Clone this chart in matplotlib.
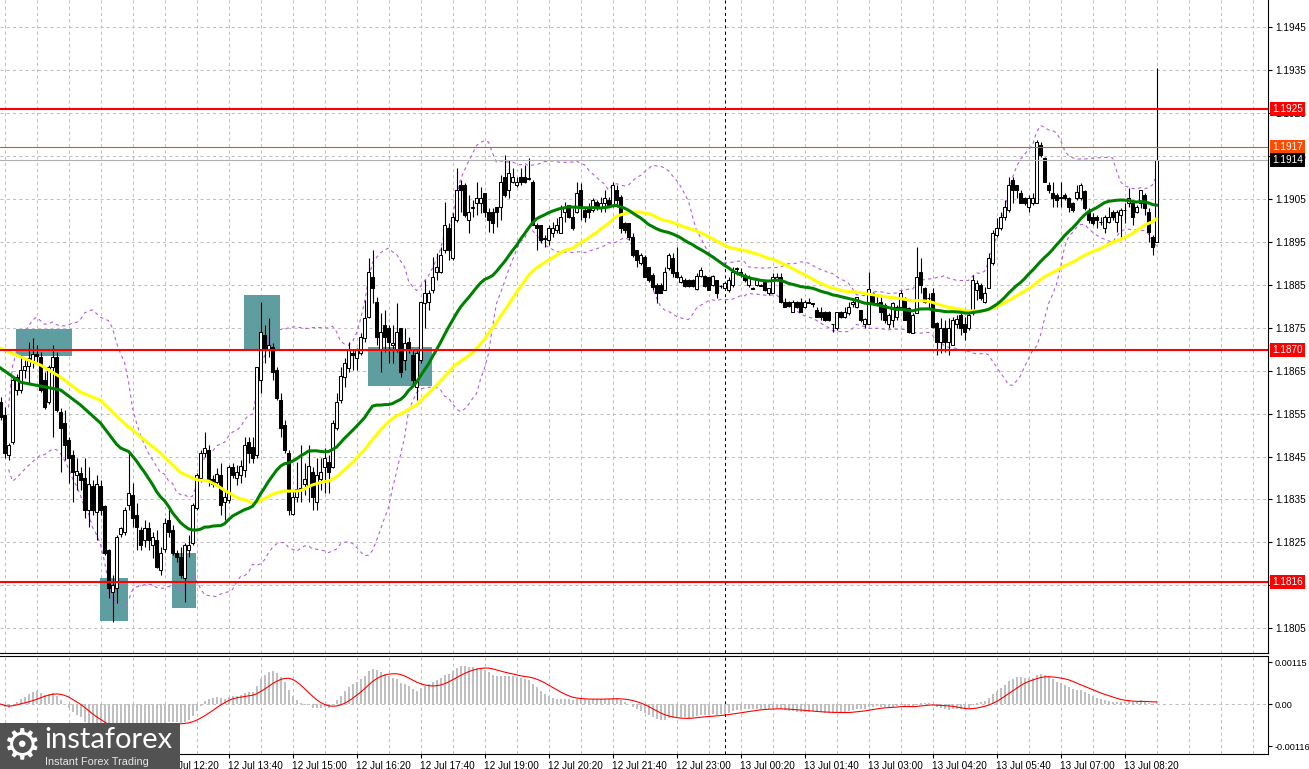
import numpy as np
import pandas as pd
import matplotlib
matplotlib.use('Agg')
import matplotlib.pyplot as plt
from matplotlib.patches import Rectangle

# EURUSD M5, 12 Jul 08:55 -> 13 Jul 09:00
opens = [
    1.18576, 1.18546, 1.18453, 1.18483, 1.18605, 1.18605, 1.18651, 1.18661, 1.18670, 1.18689,
    1.18682, 1.18628, 1.18576, 1.18659, 1.18682, 1.18553, 1.18528, 1.18488, 1.18453, 1.18406,
    1.18411, 1.18399, 1.18325, 1.18381, 1.18320, 1.18381, 1.18334, 1.18232, 1.18134, 1.18143,
    1.18270, 1.18274, 1.18336, 1.18360, 1.18313, 1.18279, 1.18255, 1.18283, 1.18243, 1.18255,
    1.18185, 1.18234, 1.18302, 1.18279, 1.18225, 1.18216, 1.18166, 1.18232, 1.18248, 1.18329,
    1.18399, 1.18458, 1.18465, 1.18397, 1.18390, 1.18406, 1.18343, 1.18348, 1.18426, 1.18399,
    1.18406, 1.18418, 1.18483, 1.18472, 1.18453, 1.18628, 1.18733, 1.18698, 1.18705, 1.18651,
    1.18581, 1.18523, 1.18458, 1.18316, 1.18356, 1.18374, 1.18386, 1.18383, 1.18413, 1.18343,
    1.18397, 1.18426, 1.18437, 1.18426, 1.18516, 1.18581, 1.18635, 1.18656, 1.18691, 1.18679,
    1.18691, 1.18726, 1.18775, 1.18868, 1.18809, 1.18698, 1.18756, 1.18749, 1.18709, 1.18698,
    1.18749, 1.18675, 1.18716, 1.18686, 1.18612, 1.18675, 1.18807, 1.18809, 1.18838, 1.18879,
    1.18879, 1.18931, 1.18982, 1.18912, 1.19001, 1.19082, 1.19082, 1.19001, 1.19028, 1.19040,
    1.19040, 1.19063, 1.19019, 1.19019, 1.19031, 1.19031, 1.19101, 1.19070, 1.19089, 1.19082,
    1.19101, 1.19101, 1.19098, 1.19089, 1.18989, 1.18989, 1.18958, 1.18954, 1.18970, 1.18977,
    1.18970, 1.19019, 1.19035, 1.19008, 1.19019, 1.19070, 1.19024, 1.19031, 1.19024, 1.19042,
    1.19028, 1.19040, 1.19047, 1.19035, 1.19070, 1.19054, 1.18994, 1.18994, 1.18961, 1.18931,
    1.18900, 1.18915, 1.18891, 1.18872, 1.18849, 1.18849, 1.18838, 1.18888, 1.18912, 1.18879,
    1.18856, 1.18861, 1.18861, 1.18861, 1.18840, 1.18870, 1.18870, 1.18868, 1.18849, 1.18861,
    1.18847, 1.18842, 1.18838, 1.18849, 1.18888, 1.18879, 1.18872, 1.18849, 1.18842, 1.18849,
    1.18849, 1.18856, 1.18831, 1.18831, 1.18863, 1.18868, 1.18809, 1.18809, 1.18786, 1.18809,
    1.18809, 1.18798, 1.18809, 1.18807, 1.18791, 1.18786, 1.18786, 1.18786, 1.18759, 1.18749,
    1.18786, 1.18775, 1.18784, 1.18805, 1.18798, 1.18791, 1.18759, 1.18759, 1.18831, 1.18807,
    1.18809, 1.18802, 1.18759, 1.18768, 1.18775, 1.18798, 1.18819, 1.18795, 1.18738, 1.18784,
    1.18879, 1.18842, 1.18819, 1.18831, 1.18761, 1.18716, 1.18749, 1.18716, 1.18709, 1.18759,
    1.18779, 1.18759, 1.18749, 1.18784, 1.18838, 1.18849, 1.18809, 1.18842, 1.18900, 1.18965,
    1.18982, 1.19008, 1.19024, 1.19094, 1.19082, 1.19063, 1.19051, 1.19031, 1.19040, 1.19040,
    1.19175, 1.19145, 1.19082, 1.19063, 1.19058, 1.19054, 1.19058, 1.19051, 1.19040, 1.19051,
    1.19051, 1.19068, 1.19019, 1.19008, 1.19008, 1.18996, 1.18982, 1.18996, 1.19019, 1.18996,
    1.19012, 1.19024, 1.19040, 1.19040, 1.19019, 1.19040, 1.19058, 1.19019, 1.18961, 1.18949,
]
highs = [
    1.18589, 1.18565, 1.18481, 1.18635, 1.18642, 1.18686, 1.18675, 1.18716, 1.18726, 1.18709,
    1.18693, 1.18646, 1.18663, 1.18709, 1.18693, 1.18562, 1.18558, 1.18496, 1.18465, 1.18446,
    1.18426, 1.18446, 1.18426, 1.18395, 1.18406, 1.18395, 1.18336, 1.18234, 1.18173, 1.18267,
    1.18286, 1.18332, 1.18458, 1.18388, 1.18341, 1.18286, 1.18302, 1.18297, 1.18274, 1.18279,
    1.18239, 1.18306, 1.18325, 1.18290, 1.18232, 1.18239, 1.18248, 1.18267, 1.18341, 1.18411,
    1.18465, 1.18507, 1.18476, 1.18406, 1.18423, 1.18435, 1.18372, 1.18430, 1.18435, 1.18430,
    1.18442, 1.18496, 1.18496, 1.18496, 1.18659, 1.18809, 1.18756, 1.18772, 1.18714, 1.18659,
    1.18598, 1.18535, 1.18465, 1.18372, 1.18437, 1.18476, 1.18435, 1.18476, 1.18426, 1.18446,
    1.18446, 1.18469, 1.18453, 1.18535, 1.18598, 1.18659, 1.18679, 1.18716, 1.18698, 1.18702,
    1.18738, 1.18814, 1.18912, 1.18931, 1.18822, 1.18784, 1.18791, 1.18756, 1.18756, 1.18807,
    1.18749, 1.18749, 1.18729, 1.18698, 1.18698, 1.18809, 1.18861, 1.18838, 1.18915, 1.18924,
    1.18938, 1.19042, 1.18994, 1.19017, 1.19121, 1.19094, 1.19087, 1.19058, 1.19047, 1.19089,
    1.19078, 1.19063, 1.19028, 1.19028, 1.19031, 1.19105, 1.19152, 1.19140, 1.19121, 1.19101,
    1.19121, 1.19128, 1.19145, 1.19094, 1.18994, 1.18989, 1.18965, 1.18989, 1.18996, 1.19005,
    1.19035, 1.19042, 1.19035, 1.19028, 1.19089, 1.19087, 1.19031, 1.19040, 1.19051, 1.19047,
    1.19054, 1.19070, 1.19054, 1.19089, 1.19082, 1.19058, 1.18996, 1.18994, 1.18970, 1.18931,
    1.18924, 1.18919, 1.18891, 1.18877, 1.18854, 1.18854, 1.18891, 1.18924, 1.18924, 1.18938,
    1.18872, 1.18865, 1.18863, 1.18863, 1.18877, 1.18891, 1.18872, 1.18868, 1.18872, 1.18861,
    1.18849, 1.18856, 1.18868, 1.18891, 1.18891, 1.18888, 1.18877, 1.18872, 1.18845, 1.18863,
    1.18852, 1.18859, 1.18842, 1.18877, 1.18877, 1.18877, 1.18819, 1.18812, 1.18814, 1.18812,
    1.18819, 1.18814, 1.18819, 1.18807, 1.18798, 1.18798, 1.18788, 1.18788, 1.18759, 1.18786,
    1.18788, 1.18798, 1.18809, 1.18819, 1.18822, 1.18791, 1.18772, 1.18879, 1.18833, 1.18822,
    1.18822, 1.18807, 1.18784, 1.18809, 1.18802, 1.18838, 1.18822, 1.18798, 1.18784, 1.18938,
    1.18912, 1.18845, 1.18831, 1.18842, 1.18763, 1.18772, 1.18768, 1.18772, 1.18775, 1.18779,
    1.18786, 1.18775, 1.18786, 1.18872, 1.18861, 1.18854, 1.18845, 1.18924, 1.18977, 1.19005,
    1.19019, 1.19047, 1.19101, 1.19101, 1.19082, 1.19070, 1.19054, 1.19058, 1.19063, 1.19187,
    1.19182, 1.19148, 1.19089, 1.19089, 1.19063, 1.19089, 1.19063, 1.19054, 1.19042, 1.19082,
    1.19087, 1.19070, 1.19028, 1.19017, 1.19012, 1.19008, 1.19012, 1.19031, 1.19024, 1.19024,
    1.19028, 1.19040, 1.19075, 1.19042, 1.19035, 1.19070, 1.19063, 1.19028, 1.18965, 1.19354,
]
lows = [
    1.18535, 1.18446, 1.18442, 1.18479, 1.18593, 1.18598, 1.18632, 1.18621, 1.18656, 1.18670,
    1.18600, 1.18560, 1.18572, 1.18496, 1.18553, 1.18413, 1.18442, 1.18388, 1.18343, 1.18372,
    1.18372, 1.18306, 1.18286, 1.18313, 1.18255, 1.18313, 1.18220, 1.18120, 1.18064, 1.18109,
    1.18263, 1.18267, 1.18325, 1.18286, 1.18232, 1.18232, 1.18239, 1.18232, 1.18213, 1.18190,
    1.18173, 1.18227, 1.18263, 1.18220, 1.18204, 1.18166, 1.18111, 1.18216, 1.18243, 1.18325,
    1.18390, 1.18449, 1.18381, 1.18379, 1.18386, 1.18313, 1.18302, 1.18341, 1.18399, 1.18383,
    1.18388, 1.18402, 1.18435, 1.18435, 1.18446, 1.18598, 1.18668, 1.18682, 1.18628, 1.18581,
    1.18496, 1.18458, 1.18313, 1.18313, 1.18343, 1.18343, 1.18360, 1.18343, 1.18325, 1.18325,
    1.18372, 1.18365, 1.18365, 1.18423, 1.18512, 1.18574, 1.18612, 1.18646, 1.18651, 1.18651,
    1.18686, 1.18716, 1.18772, 1.18807, 1.18709, 1.18646, 1.18693, 1.18668, 1.18668, 1.18693,
    1.18635, 1.18651, 1.18691, 1.18616, 1.18581, 1.18668, 1.18749, 1.18791, 1.18831, 1.18861,
    1.18877, 1.18924, 1.18907, 1.18907, 1.18996, 1.19019, 1.19008, 1.18970, 1.19008, 1.19012,
    1.19017, 1.19008, 1.18972, 1.18970, 1.18985, 1.19001, 1.19054, 1.19051, 1.19087, 1.19078,
    1.19082, 1.19087, 1.19094, 1.18989, 1.18931, 1.18947, 1.18938, 1.18942, 1.18961, 1.18970,
    1.18970, 1.18996, 1.19005, 1.18977, 1.19017, 1.19001, 1.18996, 1.19005, 1.19019, 1.19024,
    1.19019, 1.19019, 1.19031, 1.19031, 1.19031, 1.18970, 1.18970, 1.18954, 1.18915, 1.18891,
    1.18895, 1.18868, 1.18856, 1.18838, 1.18807, 1.18831, 1.18838, 1.18884, 1.18868, 1.18865,
    1.18854, 1.18845, 1.18845, 1.18845, 1.18838, 1.18868, 1.18845, 1.18838, 1.18847, 1.18819,
    1.18842, 1.18840, 1.18833, 1.18845, 1.18872, 1.18868, 1.18856, 1.18845, 1.18840, 1.18847,
    1.18847, 1.18835, 1.18826, 1.18831, 1.18861, 1.18807, 1.18798, 1.18798, 1.18786, 1.18795,
    1.18786, 1.18795, 1.18807, 1.18798, 1.18775, 1.18768, 1.18765, 1.18765, 1.18740, 1.18745,
    1.18772, 1.18772, 1.18779, 1.18798, 1.18795, 1.18763, 1.18749, 1.18759, 1.18802, 1.18802,
    1.18768, 1.18761, 1.18749, 1.18752, 1.18768, 1.18795, 1.18768, 1.18738, 1.18738, 1.18784,
    1.18831, 1.18807, 1.18795, 1.18749, 1.18686, 1.18691, 1.18693, 1.18686, 1.18709, 1.18749,
    1.18733, 1.18721, 1.18745, 1.18779, 1.18814, 1.18814, 1.18807, 1.18842, 1.18895, 1.18961,
    1.18977, 1.19001, 1.19019, 1.19040, 1.19051, 1.19040, 1.19035, 1.19019, 1.19035, 1.19040,
    1.19148, 1.19089, 1.19063, 1.19031, 1.19031, 1.19031, 1.19047, 1.19019, 1.19019, 1.19047,
    1.19047, 1.19024, 1.18994, 1.18989, 1.18982, 1.18989, 1.18970, 1.18994, 1.19001, 1.18972,
    1.18961, 1.18994, 1.19031, 1.18989, 1.19017, 1.19028, 1.19012, 1.18949, 1.18919, 1.18949,
]
closes = [
    1.18542, 1.18458, 1.18476, 1.18628, 1.18635, 1.18651, 1.18661, 1.18679, 1.18689, 1.18684,
    1.18605, 1.18565, 1.18659, 1.18682, 1.18558, 1.18516, 1.18476, 1.18446, 1.18413, 1.18416,
    1.18395, 1.18325, 1.18386, 1.18325, 1.18386, 1.18325, 1.18225, 1.18143, 1.18150, 1.18263,
    1.18283, 1.18325, 1.18365, 1.18306, 1.18286, 1.18243, 1.18283, 1.18255, 1.18263, 1.18193,
    1.18225, 1.18295, 1.18274, 1.18225, 1.18216, 1.18173, 1.18243, 1.18243, 1.18336, 1.18406,
    1.18458, 1.18469, 1.18395, 1.18386, 1.18409, 1.18336, 1.18356, 1.18426, 1.18406, 1.18413,
    1.18428, 1.18476, 1.18458, 1.18446, 1.18659, 1.18740, 1.18698, 1.18709, 1.18646, 1.18586,
    1.18516, 1.18465, 1.18325, 1.18356, 1.18374, 1.18376, 1.18397, 1.18428, 1.18356, 1.18406,
    1.18413, 1.18446, 1.18413, 1.18528, 1.18576, 1.18637, 1.18668, 1.18698, 1.18686, 1.18698,
    1.18729, 1.18772, 1.18879, 1.18842, 1.18729, 1.18740, 1.18729, 1.18716, 1.18714, 1.18740,
    1.18646, 1.18714, 1.18698, 1.18628, 1.18691, 1.18809, 1.18831, 1.18831, 1.18868, 1.18891,
    1.18919, 1.18989, 1.18931, 1.19008, 1.19070, 1.19070, 1.19012, 1.19019, 1.19031, 1.19051,
    1.19051, 1.19019, 1.19001, 1.18994, 1.19019, 1.19089, 1.19058, 1.19110, 1.19101, 1.19089,
    1.19089, 1.19089, 1.19097, 1.18989, 1.18982, 1.18954, 1.18957, 1.18982, 1.18982, 1.18989,
    1.19008, 1.19031, 1.19008, 1.18982, 1.19063, 1.19031, 1.19008, 1.19019, 1.19047, 1.19031,
    1.19040, 1.19051, 1.19035, 1.19082, 1.19047, 1.18982, 1.18977, 1.18961, 1.18919, 1.18907,
    1.18919, 1.18868, 1.18861, 1.18845, 1.18831, 1.18831, 1.18879, 1.18919, 1.18877, 1.18868,
    1.18868, 1.18847, 1.18847, 1.18847, 1.18870, 1.18884, 1.18847, 1.18838, 1.18870, 1.18831,
    1.18846, 1.18854, 1.18861, 1.18879, 1.18887, 1.18872, 1.18861, 1.18868, 1.18841, 1.18861,
    1.18848, 1.18838, 1.18842, 1.18868, 1.18868, 1.18809, 1.18798, 1.18800, 1.18809, 1.18798,
    1.18786, 1.18809, 1.18808, 1.18806, 1.18775, 1.18775, 1.18768, 1.18768, 1.18758, 1.18786,
    1.18775, 1.18786, 1.18798, 1.18809, 1.18822, 1.18768, 1.18770, 1.18840, 1.18809, 1.18806,
    1.18786, 1.18768, 1.18779, 1.18807, 1.18798, 1.18831, 1.18768, 1.18740, 1.18779, 1.18868,
    1.18849, 1.18809, 1.18818, 1.18752, 1.18716, 1.18749, 1.18716, 1.18749, 1.18768, 1.18770,
    1.18749, 1.18740, 1.18779, 1.18861, 1.18854, 1.18819, 1.18831, 1.18912, 1.18970, 1.18982,
    1.19008, 1.19031, 1.19082, 1.19070, 1.19070, 1.19040, 1.19040, 1.19051, 1.19051, 1.19182,
    1.19152, 1.19089, 1.19070, 1.19051, 1.19047, 1.19053, 1.19051, 1.19031, 1.19024, 1.19065,
    1.19082, 1.19028, 1.19001, 1.18994, 1.19001, 1.18995, 1.19008, 1.19008, 1.19008, 1.19019,
    1.19024, 1.19023, 1.19051, 1.19008, 1.19031, 1.19070, 1.19028, 1.18972, 1.18938, 1.19140,
]
start_time = '2021-07-12 08:55'

# moving averages at the left edge (their history lies before the first bar)
ma_fast_head_bars = [0, 5, 10, 15, 20, 25]
ma_fast_head = [1.18656, 1.18623, 1.18614, 1.18605, 1.18570, 1.18528]
ma_slow_head_bars = [0, 5, 10, 15, 20, 25, 30, 35, 40, 45]
ma_slow_head = [1.18702, 1.18682, 1.18663, 1.18635, 1.18600, 1.18581, 1.18535, 1.18496, 1.18458, 1.18413]

# horizontal levels drawn by the analyst
levels = [1.19259, 1.18698, 1.18158]
level_labels = ['1.1925', '1.1870', '1.1816']
ask_price = 1.1917

# teal zones: (first bar, last bar, top price, bottom price)
zones = [
    (3.9, 17.9, 1.18747, 1.18684),
    (24.9, 31.9, 1.18166, 1.18067),
    (42.9, 48.9, 1.18225, 1.18097),
    (60.9, 69.9, 1.18826, 1.18698),
    (91.9, 107.9, 1.18705, 1.18614),
]

price_ticks = [1.1805, 1.1815, 1.1825, 1.1835, 1.1845, 1.1855, 1.1865, 1.1875,
               1.1885, 1.1895, 1.1905, 1.1915, 1.1925, 1.1935, 1.1945]
macd_ticks = [0.00115, 0.0, -0.00116]
macd_labels = ['0.00115', '0.00', '-0.00116']

plt.rcParams['font.family'] = ['Liberation Sans', 'DejaVu Sans']
plt.rcParams['font.size'] = 7.2

o = np.array(opens)
h = np.array(highs)
l = np.array(lows)
c = np.array(closes)
n = len(c)
x = np.arange(n)
times = pd.date_range(start_time, periods=n, freq='5min')

# indicators
cs = pd.Series(c)
fast = cs.rolling(30).mean()
slow = cs.rolling(50).mean()
fast_x = np.concatenate([ma_fast_head_bars, x[29:]])
fast_y = np.concatenate([ma_fast_head, fast.values[29:]])
slow_x = np.concatenate([ma_slow_head_bars, x[49:]])
slow_y = np.concatenate([ma_slow_head, slow.values[49:]])
bb_mid = cs.rolling(20, min_periods=3).mean()
bb_std = cs.rolling(20, min_periods=3).std(ddof=0)
bb_up = bb_mid + 2 * bb_std
bb_dn = bb_mid - 2 * bb_std
macd = cs.ewm(span=12, adjust=False).mean() - cs.ewm(span=26, adjust=False).mean()
signal = macd.rolling(9, min_periods=1).mean()

W, H = 1309, 769
fig = plt.figure(figsize=(W / 100, H / 100), dpi=100)
ax = fig.add_axes([0, 1 - 653 / H, 1268 / W, 653 / H])
ax2 = fig.add_axes([0, 15 / H, 1268 / W, 98 / H])

xlim = (-0.125, (1268 - 0.5) / 4)
grid_bars = np.arange(1, xlim[1], 8)
grid_kw = dict(color='#c0c0c0', lw=0.75, ls=(0, (3, 3)), zorder=0)
day_break = np.where(times.normalize() != times.normalize()[0])[0][0]

# ---- price panel ----
for gx in grid_bars:
    ax.axvline(gx, **grid_kw)
for gy in price_ticks:
    ax.axhline(gy, **grid_kw)
ax.axvline(day_break, color='black', lw=0.75, ls=(0, (3, 3)), zorder=1)

for x0, x1, top, bot in zones:
    ax.add_patch(Rectangle((x0, bot), x1 - x0, top - bot, facecolor='#5f9ea0',
                           edgecolor='none', zorder=1))

ax.plot(x, bb_up, color='#b45fe0', lw=0.8, ls=(0, (3, 3)), zorder=2)
ax.plot(x, bb_dn, color='#b45fe0', lw=0.8, ls=(0, (3, 3)), zorder=2)

up = c >= o
ax.vlines(x, l, h, color='black', lw=0.8, zorder=3)
ax.bar(x, np.abs(c - o), bottom=np.minimum(o, c), width=0.55,
       color=np.where(up, 'white', 'black'), edgecolor='black', linewidth=0.75, zorder=3.1)

ax.plot(slow_x, slow_y, color='#ffff00', lw=2.2, zorder=4)
ax.plot(fast_x, fast_y, color='#008000', lw=2.2, zorder=4.1)

ax.axhline(ask_price, color='#ff4a00', lw=0.8, zorder=4.5)
ax.axhline(c[-1], color='#b0b0b0', lw=0.8, zorder=4.5)
for lv in levels:
    ax.axhline(lv, color='#ff0000', lw=1.5, zorder=5)

ax.set_xlim(*xlim)
ax.set_ylim(1.179925, 1.19513)
ax.set_xticks([])
ax.yaxis.tick_right()
ax.set_yticks(price_ticks)
ax.set_yticklabels([f'{v:.4f}' for v in price_ticks])
ax.tick_params(axis='y', length=3, width=0.8, pad=2)
for s in ['top', 'left']:
    ax.spines[s].set_visible(False)


def tag(text, yv, bg):
    ax.annotate(text, xy=(1, yv), xycoords=('axes fraction', 'data'),
                xytext=(3, 0), textcoords='offset points', ha='left', va='center',
                color='white', annotation_clip=False, zorder=20,
                bbox=dict(boxstyle='square,pad=0.22', fc=bg, ec='none'))


for lv, lb in zip(levels, level_labels):
    tag(lb, lv, '#ff0000')
tag(f'{ask_price:.4f}', ask_price, '#ff4a00')
tag(f'{c[-1]:.4f}', c[-1], 'black')

# ---- MACD panel ----
for gx in grid_bars:
    ax2.axvline(gx, **grid_kw)
ax2.axhline(0, **grid_kw)
ax2.axvline(day_break, color='black', lw=0.75, ls=(0, (3, 3)), zorder=1)
ax2.bar(x, macd, width=0.5, color='#c0c0c0', zorder=2)
ax2.plot(x, signal, color='#ff0000', lw=0.8, zorder=3)
ax2.set_xlim(*xlim)
ax2.set_ylim(-0.00137, 0.00132)
ax2.yaxis.tick_right()
ax2.set_yticks(macd_ticks)
ax2.set_yticklabels(macd_labels)
ax2.tick_params(axis='y', length=3, width=0.8, pad=1.5, labelsize=6.6)
ax2.spines['left'].set_visible(False)

# time labels every 80 minutes; the earlier ones sit under the logo
tick_bars = np.arange(41, n, 16)
ax2.set_xticks(tick_bars)
ax2.set_xticklabels([times[i].strftime('%d %b %H:%M') for i in tick_bars])
for lbl in ax2.get_xticklabels():
    lbl.set_ha('left')
ax2.tick_params(axis='x', length=3, width=0.8, pad=2)

# ---- logo ----
lax = fig.add_axes([0, 0, 180 / W, 46 / H])
lax.set_axis_off()
lax.add_patch(Rectangle((0, 0), 1, 1, transform=lax.transAxes, facecolor='#525252',
                        edgecolor='none'))
lax.text(0.125, 0.5, '\u2699', color='white', fontsize=31, ha='center', va='center',
         family='DejaVu Sans', transform=lax.transAxes)
lax.text(0.245, 0.62, 'instaforex', color='white', fontsize=21, ha='left', va='center',
         family='Lato', transform=lax.transAxes)
lax.text(0.25, 0.16, 'Instant Forex Trading', color='#e8e8e8', fontsize=7.8,
         ha='left', va='center', transform=lax.transAxes)

fig.savefig('out.png', dpi=100, facecolor='white')
